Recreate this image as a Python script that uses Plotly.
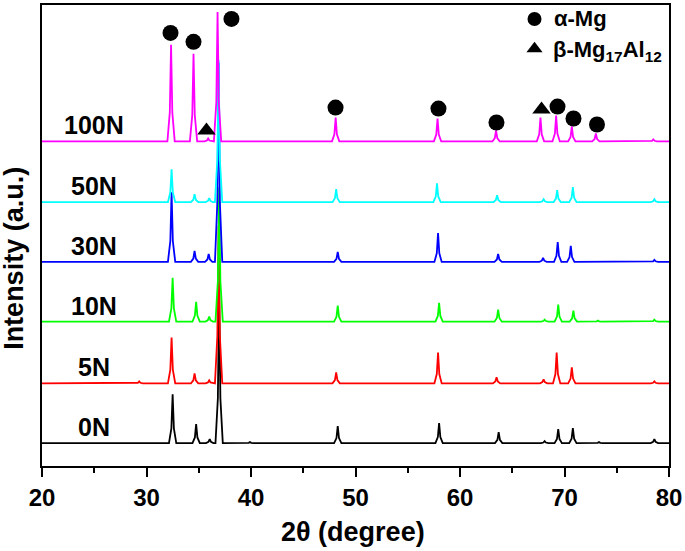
import plotly.graph_objects as go

# ---------------- data ----------------
x_range = [20, 80]
x_ticks = [20, 30, 40, 50, 60, 70, 80]

series_names = ["0N", "5N", "10N", "30N", "50N", "100N"]
series_colors = ["#000000", "#FF0000", "#00FF00", "#0000FF", "#00FFFF", "#FF00FF"]
series_offsets = [0, 60, 122, 182, 242, 303]

# peak positions (2θ) and heights (a.u.) for each pattern
pos_0N = [32.5, 34.75, 36.05, 36.95, 39.9, 48.3, 58.0, 63.7, 68.1, 69.4, 70.8, 73.3, 78.6]
int_0N = [49, 19, 4, 150, 1, 17, 20, 11, 2, 14, 15, 1, 4]

pos_5N = [29.3, 32.4, 34.6, 36.0, 36.9, 48.15, 57.9, 63.5, 68.0, 69.25, 70.7, 78.6]
int_5N = [2, 46, 10, 3, 158, 11, 31, 6, 4, 31, 16, 2]

pos_10N = [32.5, 34.75, 36.0, 36.95, 48.3, 58.0, 63.65, 68.1, 69.4, 70.85, 73.2, 78.6]
int_10N = [44, 20, 5, 135, 16, 19, 12, 2, 17, 11, 1, 2]

pos_30N = [32.4, 34.6, 35.95, 36.9, 48.3, 57.9, 63.65, 67.95, 69.35, 70.6, 78.6]
int_30N = [70, 11, 8, 200, 10, 29, 8, 4, 20, 16, 2]

pos_50N = [32.4, 34.6, 36.0, 36.9, 48.15, 57.8, 63.55, 68.0, 69.3, 70.8, 78.6]
int_50N = [33, 8, 4, 143, 13, 19, 7, 3, 12, 15, 3]

pos_100N = [32.35, 34.5, 35.9, 36.8, 48.1, 57.85, 63.45, 67.7, 69.2, 70.7, 73.0, 78.5]
int_100N = [97, 88, 3, 130, 24, 23, 11, 24, 26, 15, 8, 2]

peak_positions = [pos_0N, pos_5N, pos_10N, pos_30N, pos_50N, pos_100N]
peak_heights = [int_0N, int_5N, int_10N, int_30N, int_50N, int_100N]

# phase marker positions (2θ, a.u.)
alpha_x = [32.3, 34.5, 38.13, 48.09, 57.94, 63.49, 69.33, 70.86, 73.11]
alpha_y = [412, 403, 426, 337, 336, 322, 338, 326, 320]
beta_x = [35.74, 67.8]
beta_y = [314, 335]

legend_labels = ["α-Mg", "β-Mg<sub>17</sub>Al<sub>12</sub>"]

# ---------------- build figure ----------------
FONT = "Liberation Sans, Arial, sans-serif"
half_w = 0.35     # half base width of a drawn peak (deg)
shoulder = 0.12   # shoulder offset (deg)

fig = go.Figure()

for name, color, off, pk, hk in zip(series_names, series_colors, series_offsets,
                                    peak_positions, peak_heights):
    xs = [x_range[0]]
    ys = [off]
    for p, h in sorted(zip(pk, hk)):
        xs += [p - half_w, p - shoulder, p, p + shoulder, p + half_w]
        ys += [off, off + 0.3 * h, off + h, off + 0.3 * h, off]
    xs.append(x_range[1])
    ys.append(off)
    fig.add_trace(go.Scatter(x=xs, y=ys, mode="lines", name=name,
                             line=dict(color=color, width=1.8),
                             showlegend=False, hoverinfo="skip"))

# phase markers
fig.add_trace(go.Scatter(x=alpha_x, y=alpha_y, mode="markers",
                         marker=dict(symbol="circle", size=16, color="black"),
                         showlegend=False, hoverinfo="skip"))
fig.add_trace(go.Scatter(x=beta_x, y=beta_y, mode="markers",
                         marker=dict(symbol="triangle-up", size=16, color="black"),
                         showlegend=False, hoverinfo="skip"))

# hand-made legend
fig.add_trace(go.Scatter(x=[67.13], y=[426], mode="markers",
                         marker=dict(symbol="circle", size=14, color="black"),
                         showlegend=False, hoverinfo="skip"))
fig.add_trace(go.Scatter(x=[67.13], y=[396], mode="markers",
                         marker=dict(symbol="triangle-up", size=14, color="black"),
                         showlegend=False, hoverinfo="skip"))
fig.add_annotation(x=68.8, y=426, text=legend_labels[0], showarrow=False,
                   xanchor="left", yanchor="middle",
                   font=dict(family=FONT, size=22, color="black", weight="bold"))
fig.add_annotation(x=68.75, y=394, text=legend_labels[1], showarrow=False,
                   xanchor="left", yanchor="middle",
                   font=dict(family=FONT, size=22, color="black", weight="bold"))

# series labels
for name, off in zip(series_names, series_offsets):
    fig.add_annotation(x=25.0, y=off + 16, text=name, showarrow=False,
                       xanchor="center", yanchor="middle",
                       font=dict(family=FONT, size=25, color="black", weight="bold"))

# axis titles
fig.add_annotation(xref="paper", yref="paper", x=0.496, y=-0.1425,
                   text="2θ (degree)", showarrow=False,
                   xanchor="center", yanchor="middle",
                   font=dict(family=FONT, size=27, color="black", weight="bold"))
fig.add_annotation(xref="paper", yref="paper", x=-0.045, y=0.451,
                   text="Intensity (a.u.)", showarrow=False, textangle=-90,
                   xanchor="center", yanchor="middle",
                   font=dict(family=FONT, size=27, color="black", weight="bold"))

fig.update_layout(
    width=685, height=551,
    margin=dict(l=42, r=16, t=3, b=85),
    paper_bgcolor="white", plot_bgcolor="white",
    font=dict(family=FONT, color="black"),
)
fig.update_xaxes(
    range=x_range, tickvals=x_ticks, ticktext=[str(t) for t in x_ticks],
    showline=True, linecolor="black", linewidth=2, mirror=True,
    ticks="outside", ticklen=9, tickwidth=2, tickcolor="black",
    minor=dict(dtick=5, tick0=20, ticks="outside", ticklen=5, tickwidth=1.5, tickcolor="black"),
    tickfont=dict(family=FONT, size=24, color="black", weight="bold"),
    showgrid=False, zeroline=False,
)
fig.update_yaxes(
    range=[-23, 440], showticklabels=False, ticks="",
    showline=True, linecolor="black", linewidth=2, mirror=True,
    showgrid=False, zeroline=False,
)

fig.write_html("out.html",
               config={"displayModeBar": False},
               post_script="document.body.style.margin='0';document.body.style.overflow='hidden';")
